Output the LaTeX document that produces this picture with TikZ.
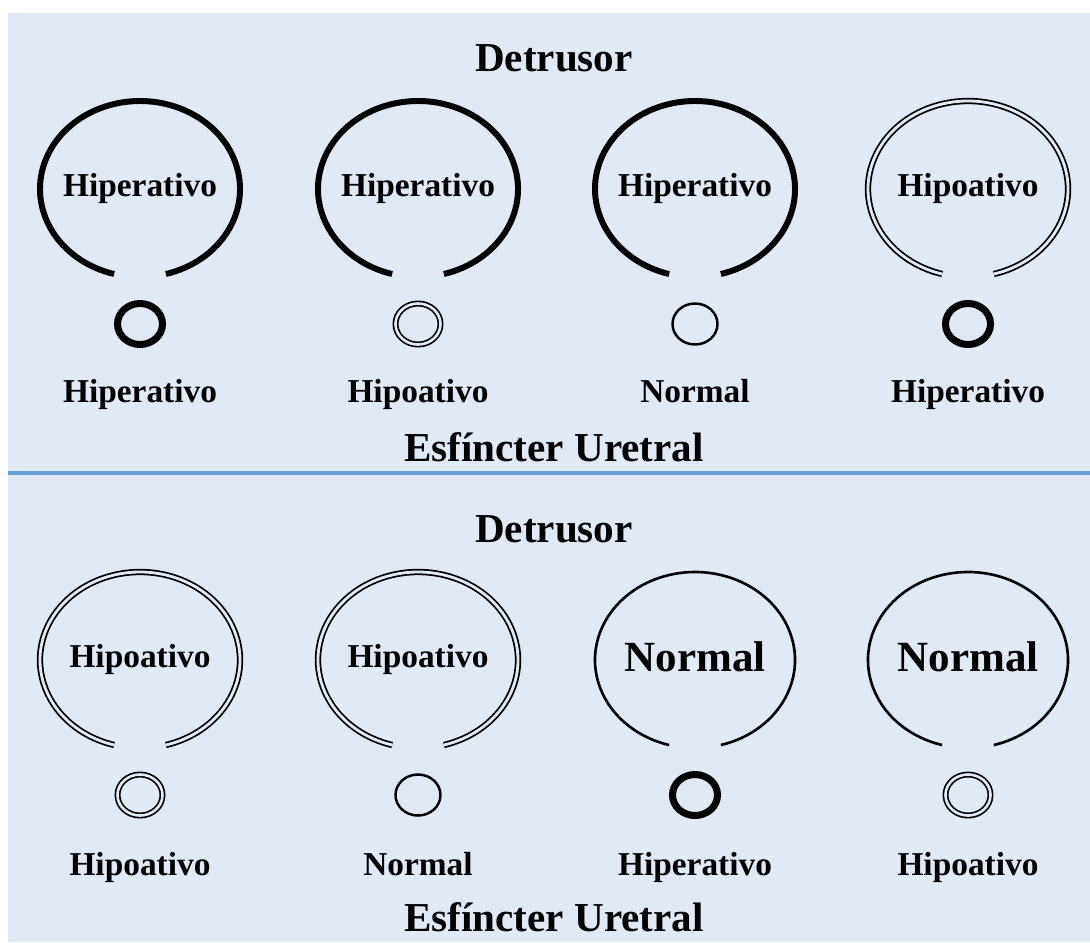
\documentclass[tikz,border=0pt]{standalone}
\usepackage{fontspec}
\setmainfont{Liberation Serif}
\usepackage{xcolor}
\usepackage{tikz}
\usetikzlibrary{positioning,shapes.geometric,calc}

\definecolor{panelbg}{RGB}{225,233,245}
\definecolor{rule}{RGB}{102,160,214}

\begin{document}
\begin{tikzpicture}[
    label/.style={
        font=\bfseries\fontsize{19}{22}\selectfont,
        inner sep=0pt,
        text height=13pt,
        text depth=4pt
    },
    title/.style={
        font=\bfseries\fontsize{23.4}{26}\selectfont,
        inner sep=0pt,
        text height=16pt,
        text depth=0pt
    },
    big/.style={
        font=\bfseries\fontsize{24.5}{28}\selectfont,
        inner sep=0pt,
        text height=16.5pt,
        text depth=0pt
    },
    hiper/.style={draw=black, line width=3.4pt},
    normal/.style={draw=black, line width=1.5pt},
    hipo/.style={draw=black, line width=1pt, double=panelbg, double distance=1.6pt},
    sph/.style={
        ellipse,
        inner sep=0pt,
        minimum width=0.9cm,
        minimum height=0.82cm
    },
    sphhiper/.style={sph, draw=black, line width=4pt},
    sphnormal/.style={sph, draw=black, line width=1.4pt},
    sphhipo/.style={sph, draw=black, line width=0.95pt, double=panelbg, double distance=1.5pt}
]

\useasboundingbox (0,0) rectangle (21.8,-18.84);
\fill[panelbg] (0.16,-0.26) rectangle (21.8,-18.84);
\draw[rule, line width=2.3pt] (0.16,-9.46) -- (21.8,-9.46);

% upper panel
\node[title] (dtop) at (11.08,-1.14) {Detrusor};

\node[label] (d1) at (2.8,-3.78) {Hiperativo};
\node[label] (d2) at (8.36,-3.78) {Hiperativo};
\node[label] (d3) at (13.9,-3.78) {Hiperativo};
\node[label] (d4) at (19.36,-3.78) {Hipoativo};

\draw[hiper] ($(d1)+(-75:2cm and 1.76cm)$) arc[start angle=-75, end angle=255, x radius=2cm, y radius=1.76cm];
\draw[hiper] ($(d2)+(-75:2cm and 1.76cm)$) arc[start angle=-75, end angle=255, x radius=2cm, y radius=1.76cm];
\draw[hiper] ($(d3)+(-75:2cm and 1.76cm)$) arc[start angle=-75, end angle=255, x radius=2cm, y radius=1.76cm];
\draw[hipo] ($(d4)+(-75:2cm and 1.76cm)$) arc[start angle=-75, end angle=255, x radius=2cm, y radius=1.76cm];

\node[sphhiper] (s1) at (2.8,-6.48) {};
\node[sphhipo] (s2) at (8.36,-6.48) {};
\node[sphnormal] (s3) at (13.9,-6.48) {};
\node[sphhiper] (s4) at (19.36,-6.48) {};

\node[label] (l1) at (2.8,-7.9) {Hiperativo};
\node[label] (l2) at (8.36,-7.9) {Hipoativo};
\node[label] (l3) at (13.9,-7.9) {Normal};
\node[label] (l4) at (19.36,-7.9) {Hiperativo};

\node[title] (etop) at (11.08,-8.94) {Esfíncter Uretral};

% lower panel
\node[title] (dbot) at (11.08,-10.56) {Detrusor};

\node[label] (d5) at (2.8,-13.2) {Hipoativo};
\node[label] (d6) at (8.36,-13.2) {Hipoativo};
\node[big] (d7) at (13.9,-13.14) {Normal};
\node[big] (d8) at (19.36,-13.14) {Normal};

\draw[hipo] ($(d5)+(-75:2cm and 1.76cm)$) arc[start angle=-75, end angle=255, x radius=2cm, y radius=1.76cm];
\draw[hipo] ($(d6)+(-75:2cm and 1.76cm)$) arc[start angle=-75, end angle=255, x radius=2cm, y radius=1.76cm];
\draw[normal] ($(d7)+(0,-0.06)+(-75:2cm and 1.76cm)$) arc[start angle=-75, end angle=255, x radius=2cm, y radius=1.76cm];
\draw[normal] ($(d8)+(0,-0.06)+(-75:2cm and 1.76cm)$) arc[start angle=-75, end angle=255, x radius=2cm, y radius=1.76cm];

\node[sphhipo] (s5) at (2.8,-15.9) {};
\node[sphnormal] (s6) at (8.36,-15.9) {};
\node[sphhiper] (s7) at (13.9,-15.9) {};
\node[sphhipo] (s8) at (19.36,-15.9) {};

\node[label] (l5) at (2.8,-17.36) {Hipoativo};
\node[label] (l6) at (8.36,-17.36) {Normal};
\node[label] (l7) at (13.9,-17.36) {Hiperativo};
\node[label] (l8) at (19.36,-17.36) {Hipoativo};

\node[title] (ebot) at (11.08,-18.34) {Esfíncter Uretral};

\end{tikzpicture}
\end{document}
